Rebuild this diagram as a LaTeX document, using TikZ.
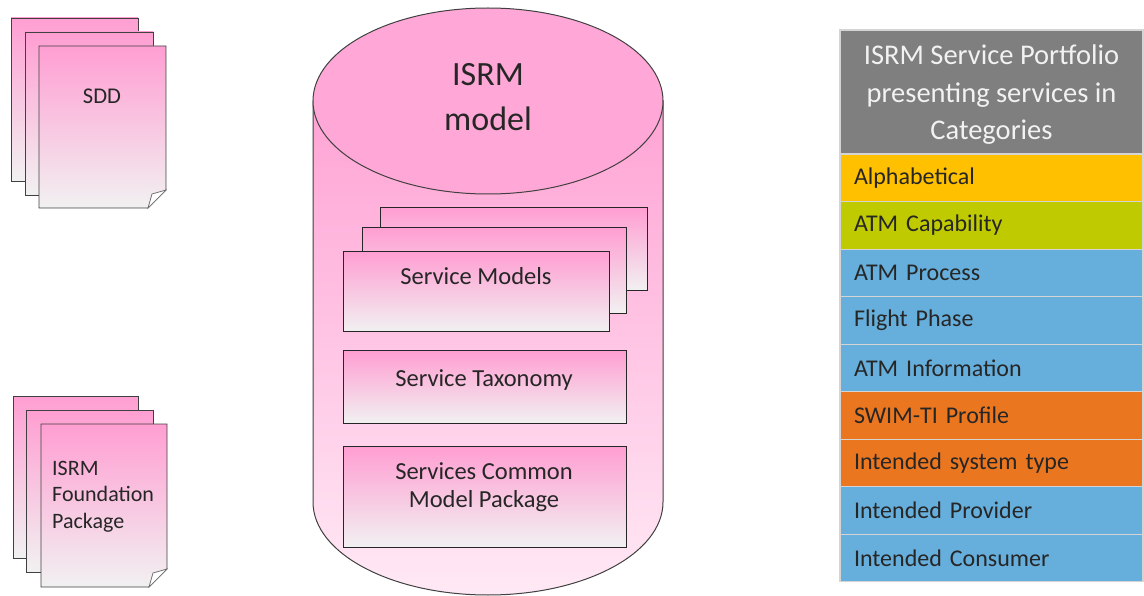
\documentclass[tikz,border=0pt]{standalone}
\usepackage{fontspec}
\setmainfont{Carlito}
\usepackage{xcolor}

\definecolor{pinktop}{HTML}{FF9ED2}
\definecolor{pinklight}{HTML}{FFE9F5}
\definecolor{paper}{HTML}{F1F1F1}
\definecolor{hdrgrey}{HTML}{7F7F7F}
\definecolor{catyellow}{HTML}{FFC000}
\definecolor{catgreen}{HTML}{BFCB00}
\definecolor{catblue}{HTML}{66AEDB}
\definecolor{catorange}{HTML}{EB7620}
\definecolor{rowline}{HTML}{D4D4D4}

\tikzset{
    page/.style={draw=black!75, line width=0.9pt, top color=pinktop, bottom color=paper},
    modelbox/.style={draw=black!85, line width=1.1pt, top color=pinktop, bottom color=paper,
        minimum width=#1, align=center, anchor=north west, inner sep=0pt},
    boxtext/.style={font=\fontsize{24.5}{28}\selectfont, text=black!85},
    catrow/.style={fill=#1, draw=rowline, line width=1.2pt, minimum width=303pt,
        minimum height=47.5pt, text width=275pt, align=left, inner sep=0pt,
        font=\fontsize{24}{26}\selectfont, text=black!85},
}

\begin{document}
\begin{tikzpicture}[x=1pt, y=-1pt]

\useasboundingbox (0,0) rectangle (1144,596);

% SDD document stack
\draw[page] (11,18) rectangle (138,181);
\draw[page] (25,32) rectangle (153,195);
\draw[page] (39,46) -- (166,46) -- (166,190) -- (148,208) -- (39,208) -- cycle;
\draw[black!60, fill=white, line width=0.7pt] (166,190) -- (148,208) -- (152,194) -- cycle;
\node[font=\fontsize{22.5}{26}\selectfont, text=black!85] (sdd) at (102,96) {SDD};

% Foundation document stack
\draw[page] (13,396) rectangle (138,558);
\draw[page] (26,410) rectangle (153,572);
\draw[page] (41,424) -- (167,424) -- (167,569) -- (149,587) -- (41,587) -- cycle;
\draw[black!60, fill=white, line width=0.7pt] (167,569) -- (149,587) -- (153,573) -- cycle;
\node[font=\fontsize{22}{26.5}\selectfont, text=black!85, align=left, anchor=north west,
      inner sep=0pt] (found) at (52,461) {ISRM\\Foundation\\Package};

% ISRM model cylinder
\draw[draw=black!75, line width=1pt, top color=pinktop!95, bottom color=pinklight]
    (313,101) -- (313,502) arc[start angle=180, end angle=360, x radius=175pt, y radius=93pt]
    -- (663,101) -- cycle;
\draw[draw=black!75, line width=1pt, fill=pinktop!90!white] (488,101) ellipse[x radius=175pt, y radius=93pt];
\node[font=\fontsize{34}{45}\selectfont, text=black!85, align=center] (isrm) at (488,97) {ISRM\\model};

% Service models (stacked)
\node[modelbox=267pt, minimum height=83pt] (sm3) at (380,207) {};
\node[modelbox=264pt, minimum height=86pt] (sm2) at (362,227) {};
\node[modelbox=266pt, minimum height=80pt] (sm1) at (343,251) {};
\node[boxtext] (smtext) at (476,276) {Service Models};

% Service taxonomy
\node[modelbox=283pt, minimum height=73pt] (tax) at (343,350) {};
\node[boxtext] (taxtext) at (484,380) {Service Taxonomy};

% Services common model package
\node[modelbox=283pt, minimum height=101pt] (common) at (343,446) {};
\node[boxtext, align=center] (commontext) at (484,487) {Services Common\\Model Package};

% Service portfolio table
\node[fill=hdrgrey, draw=rowline, line width=1.2pt, minimum width=303pt, minimum height=124pt,
      inner sep=0pt] (portfolio) at (991.5,92) {};
\node[align=center, text=white!95!black, font=\fontsize{28.5}{37.5}\selectfont]
    (porttext) at (991.5,95) {ISRM Service Portfolio\\presenting services in\\Categories};
\node[catrow=catyellow] (alpha) at (991.5,178) {Alphabetical};
\node[catrow=catgreen] (capab) at (991.5,225.5) {ATM Capability};
\node[catrow=catblue] (proc) at (991.5,273) {ATM Process};
\node[catrow=catblue] (phase) at (991.5,320.5) {Flight Phase};
\node[catrow=catblue] (info) at (991.5,368) {ATM Information};
\node[catrow=catorange] (swim) at (991.5,415.5) {SWIM-TI Profile};
\node[catrow=catorange] (systype) at (991.5,463) {Intended system type};
\node[catrow=catblue] (provider) at (991.5,510.5) {Intended Provider};
\node[catrow=catblue] (consumer) at (991.5,558) {Intended Consumer};

\end{tikzpicture}
\end{document}
